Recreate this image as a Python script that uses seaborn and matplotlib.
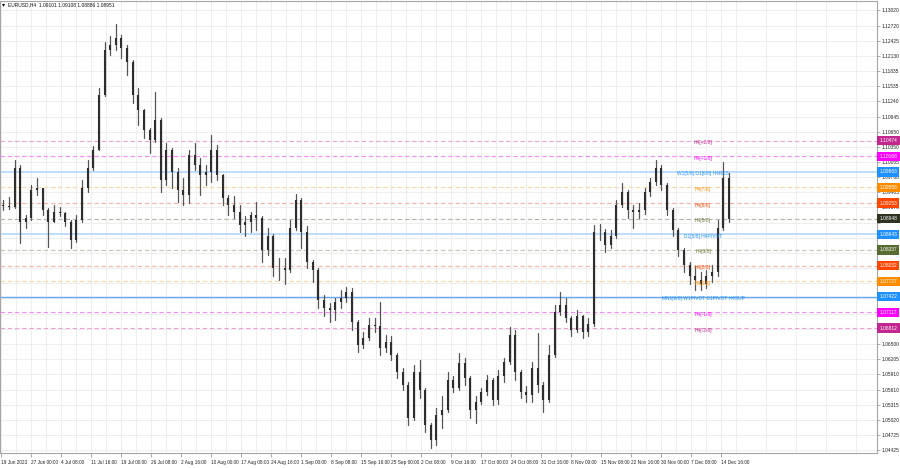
import numpy as np
import pandas as pd
import matplotlib
matplotlib.use("Agg")
import matplotlib.pyplot as plt
from matplotlib import transforms
import seaborn as sns

sns.set_style("white")
plt.rcParams["font.family"] = ["Liberation Sans", "DejaVu Sans"]

# ---------------- data (EURUSD H4, grouped 6 bars per candle) ----------------
first_open = 1.0922
high = [1.0931, 1.0937, 1.1010, 1.1000, 1.0902, 1.0961, 1.0974, 1.0955, 1.0916, 1.0922,
        1.0918, 1.0908, 1.0892, 1.0902, 1.0970, 1.1010, 1.1037, 1.1150, 1.1240, 1.1252,
        1.1275, 1.1254, 1.1234, 1.1205, 1.1150, 1.1110, 1.1072, 1.1142, 1.1092, 1.1043,
        1.1033, 1.0994, 1.0974, 1.1029, 1.1043, 1.1013, 1.1000, 1.1058, 1.1039, 1.0982,
        1.0941, 1.0939, 1.0922, 1.0900, 1.0908, 1.0927, 1.0900, 1.0877, 1.0865, 1.0818,
        1.0818, 1.0892, 1.0943, 1.0935, 1.0881, 1.0814, 1.0799, 1.0746, 1.0730, 1.0740,
        1.0756, 1.0761, 1.0759, 1.0697, 1.0673, 1.0701, 1.0701, 1.0732, 1.0668, 1.0666,
        1.0633, 1.0603, 1.0576, 1.0609, 1.0619, 1.0564, 1.0496, 1.0525, 1.0548, 1.0595,
        1.0588, 1.0632, 1.0623, 1.0588, 1.0548, 1.0564, 1.0590, 1.0584, 1.0599, 1.0623,
        1.0683, 1.0677, 1.0599, 1.0568, 1.0615, 1.0672, 1.0576, 1.0648, 1.0726, 1.0752,
        1.0740, 1.0705, 1.0716, 1.0707, 1.0701, 1.0883, 1.0884, 1.0874, 1.0873, 1.0931,
        1.0965, 1.0951, 1.0922, 1.0926, 1.0955, 1.0974, 1.1010, 1.1000, 1.0965, 1.0916,
        1.0877, 1.0838, 1.0810, 1.0802, 1.0791, 1.0795, 1.0804, 1.0892, 1.1006, 1.0985]
low = [1.0912, 1.0914, 1.0916, 1.0847, 1.0877, 1.0892, 1.0941, 1.0902, 1.0840, 1.0888,
       1.0900, 1.0881, 1.0838, 1.0850, 1.0888, 1.0947, 1.0990, 1.1029, 1.1135, 1.1215,
       1.1225, 1.1209, 1.1176, 1.1121, 1.1078, 1.1053, 1.1023, 1.1045, 1.0947, 1.0961,
       1.0955, 1.0927, 1.0922, 1.0926, 1.0990, 1.0941, 1.0961, 1.0967, 1.0970, 1.0922,
       1.0902, 1.0896, 1.0869, 1.0861, 1.0869, 1.0873, 1.0810, 1.0824, 1.0783, 1.0775,
       1.0767, 1.0791, 1.0873, 1.0838, 1.0799, 1.0771, 1.0720, 1.0705, 1.0693, 1.0697,
       1.0720, 1.0732, 1.0677, 1.0634, 1.0642, 1.0658, 1.0673, 1.0629, 1.0634, 1.0619,
       1.0584, 1.0560, 1.0492, 1.0502, 1.0545, 1.0478, 1.0447, 1.0453, 1.0486, 1.0517,
       1.0556, 1.0560, 1.0570, 1.0505, 1.0496, 1.0533, 1.0550, 1.0531, 1.0533, 1.0576,
       1.0611, 1.0580, 1.0545, 1.0537, 1.0537, 1.0556, 1.0517, 1.0537, 1.0625, 1.0707,
       1.0693, 1.0666, 1.0673, 1.0662, 1.0666, 1.0685, 1.0853, 1.0830, 1.0838, 1.0857,
       1.0918, 1.0896, 1.0877, 1.0896, 1.0904, 1.0939, 1.0961, 1.0951, 1.0902, 1.0861,
       1.0822, 1.0791, 1.0767, 1.0756, 1.0756, 1.0759, 1.0771, 1.0783, 1.0873, 1.0888]
close = [1.0920, 1.0918, 1.0994, 1.0888, 1.0896, 1.0951, 1.0955, 1.0912, 1.0888, 1.0908,
         1.0906, 1.0888, 1.0853, 1.0892, 1.0955, 1.0994, 1.1029, 1.1137, 1.1225, 1.1234,
         1.1248, 1.1228, 1.1201, 1.1137, 1.1107, 1.1068, 1.1049, 1.1088, 1.0970, 1.1029,
         1.0986, 1.0951, 1.0941, 1.1019, 1.1000, 1.0980, 1.0986, 1.1029, 1.0980, 1.0935,
         1.0922, 1.0908, 1.0883, 1.0888, 1.0902, 1.0896, 1.0834, 1.0861, 1.0799, 1.0799,
         1.0795, 1.0877, 1.0931, 1.0869, 1.0810, 1.0795, 1.0736, 1.0720, 1.0716, 1.0732,
         1.0740, 1.0752, 1.0693, 1.0648, 1.0662, 1.0687, 1.0685, 1.0642, 1.0654, 1.0629,
         1.0595, 1.0570, 1.0505, 1.0595, 1.0560, 1.0492, 1.0462, 1.0511, 1.0521, 1.0580,
         1.0564, 1.0613, 1.0584, 1.0521, 1.0537, 1.0556, 1.0580, 1.0541, 1.0588, 1.0615,
         1.0668, 1.0595, 1.0556, 1.0550, 1.0603, 1.0570, 1.0541, 1.0629, 1.0713, 1.0726,
         1.0701, 1.0677, 1.0705, 1.0673, 1.0689, 1.0869, 1.0869, 1.0843, 1.0861, 1.0922,
         1.0947, 1.0912, 1.0908, 1.0912, 1.0947, 1.0967, 1.0994, 1.0961, 1.0912, 1.0873,
         1.0834, 1.0804, 1.0783, 1.0775, 1.0767, 1.0783, 1.0791, 1.0877, 1.0974, 1.0895]

x_labels = ["19 Jun 2023", "27 Jun 00:00", "4 Jul 08:00", "11 Jul 16:00", "19 Jul 00:00",
            "26 Jul 08:00", "2 Aug 16:00", "10 Aug 00:00", "17 Aug 08:00", "24 Aug 16:00",
            "1 Sep 00:00", "8 Sep 08:00", "15 Sep 16:00", "25 Sep 00:00", "2 Oct 08:00",
            "9 Oct 16:00", "17 Oct 00:00", "24 Oct 08:00", "31 Oct 16:00", "8 Nov 00:00",
            "15 Nov 08:00", "22 Nov 16:00", "30 Nov 00:00", "7 Dec 08:00", "14 Dec 16:00"]

y_ticks = [1.13020, 1.12720, 1.12425, 1.12130, 1.11835, 1.11535, 1.11240, 1.10945,
           1.10650, 1.10350, 1.10055, 1.09760, 1.09465, 1.09170, 1.08870, 1.08575,
           1.08280, 1.07980, 1.07685, 1.07390, 1.07095, 1.06795, 1.06500, 1.06205,
           1.05910, 1.05610, 1.05315, 1.05020, 1.04725, 1.04425]
y_hidden = [1.08870, 1.08575, 1.08280, 1.07980, 1.07685, 1.07390, 1.07095, 1.06795]

level_prices = [1.10474, 1.10168, 1.09863, 1.09558, 1.09253, 1.08948, 1.08643,
                1.08337, 1.08032, 1.07727, 1.07422, 1.07117, 1.06812]
level_names = ["H4[+2/8]", "H4[+1/8]", "W1[5/8] D1[6/8] H4RES", "H4[7/8]", "H4[6/8]",
               "H4[5/8]", "D1[5/8] H4PIVOT", "H4[3/8]", "H4[2/8]", "H4[1/8]",
               "MN1[6/8] W1PIVOT D1PIVOT H4SUP", "H4[-1/8]", "H4[-2/8]"]
level_text_colors = ["#c2278f", "#ff00ff", "#1e90ff", "#ff8c00", "#ff4500", "#6b7a3a",
                     "#1e90ff", "#6b7a3a", "#ff4500", "#ff8c00", "#1e90ff", "#ff00ff", "#c2278f"]
level_box_colors = ["#c2278f", "#ff00ff", "#1e90ff", "#ff8c00", "#ff4500", "#2e3322",
                    "#1e90ff", "#556b2f", "#ff4500", "#ff8c00", "#1e90ff", "#ff00ff", "#c2278f"]
level_line_colors = ["#eaa3d6", "#f58cf5", "#b9dafa", "#fbd6a6", "#f9b3a3", "#b4b4a6",
                     "#b9dafa", "#c3c3b4", "#f9b3a3", "#fbd6a6", "#6aa8ee", "#f58cf5", "#eaa3d6"]
level_solid = [False, False, True, False, False, False, True, False, False, False, True, False, False]

# ---------------- figure ----------------
W, H = 900, 468
fig = plt.figure(figsize=(W / 100, H / 100), dpi=100)
ax = fig.add_axes([0.0, 15 / H, 877 / W, 452 / H])

BAR_PX = 0.9375          # pixel width of one H4 bar
GROUP = 6                # H4 bars per drawn candle
n = len(close)
opens = [first_open] + close[:-1]
xc = np.arange(n) * GROUP + (GROUP - 1) / 2.0

# grid
ax.set_xlim(-1 / BAR_PX, (877 - 1) / BAR_PX)
ax.set_ylim(1.04370, 1.13202)
ax.set_xticks([32 * k for k in range(len(x_labels))])
ax.set_xticks([32 * k + 16 for k in range(len(x_labels) + 4)], minor=True)
ax.set_yticks(y_ticks)
ax.grid(True, which="both", color="#ebebeb", lw=0.6, zorder=0)
ax.set_axisbelow(True)

# level lines
for p, c, solid in zip(level_prices, level_line_colors, level_solid):
    if solid:
        ax.axhline(p, color=c, lw=1.3 if c != "#6aa8ee" else 1.0, zorder=1)
    else:
        ax.axhline(p, color=c, lw=0.8, ls=(0, (4, 2.5)), zorder=1)

# candles drawn with seaborn line segments
wick_df = pd.DataFrame({
    "x": np.repeat(xc, 2),
    "p": np.column_stack([low, high]).ravel(),
    "u": np.repeat(np.arange(n), 2),
})
body_df = pd.DataFrame({
    "x": np.repeat(xc, 2),
    "p": np.column_stack([opens, close]).ravel(),
    "u": np.repeat(np.arange(n), 2),
})
sns.lineplot(data=wick_df, x="x", y="p", units="u", estimator=None, sort=False,
             color="#555555", lw=0.9, ax=ax, legend=False, zorder=2)
sns.lineplot(data=body_df, x="x", y="p", units="u", estimator=None, sort=False,
             color="#2e2e2e", lw=1.5, solid_capstyle="butt", ax=ax, legend=False, zorder=2)

# axes styling
for s in ax.spines.values():
    s.set_color("#a6a6a6")
    s.set_linewidth(0.8)
ax.set_xlabel("")
ax.set_ylabel("")
ax.yaxis.tick_right()
ax.tick_params(axis="y", which="major", right=True, left=False, labelright=True,
               labelleft=False, length=2, width=0.5, pad=1.5, labelsize=3.5,
               color="#888888", labelcolor="#222222")
ax.tick_params(axis="x", which="major", bottom=True, length=3, width=0.5, pad=2,
               labelsize=3.4, color="#888888", labelcolor="#222222")
ax.tick_params(axis="x", which="minor", bottom=False)
ax.set_xticklabels(x_labels)
for lbl in ax.get_xticklabels():
    lbl.set_ha("left")
ax.set_yticklabels(["" if v in y_hidden else f"{v:.5f}" for v in y_ticks])

# level text labels & right-side price boxes
blend = transforms.blended_transform_factory(ax.transAxes, ax.transData)
lab_tr = transforms.offset_copy(blend, fig=fig, x=0, y=-2, units="dots")
for p, name, tc, bc in zip(level_prices, level_names, level_text_colors, level_box_colors):
    ax.text(703 / 877, p, name, transform=lab_tr, ha="center", va="center",
            fontsize=3.5, color=tc, zorder=4)
    ax.text(1.0 + 2.5 / 877, p, f"{p:.5f}", transform=blend, ha="left", va="center",
            fontsize=3.5, color="white", zorder=5, clip_on=False,
            bbox=dict(boxstyle="square,pad=0.45", fc=bc, ec="none"))

# header
fig.text(2 / W, 1 - 5 / H, "\u25BE", fontsize=4.5, color="#111111", va="center", ha="left",
         family=["DejaVu Sans"])
fig.text(8 / W, 1 - 5 / H, "EURUSD,H4  1.09101 1.09108 1.08886 1.08951", fontsize=3.5,
         color="#111111", va="center", ha="left")

fig.savefig("out.png", dpi=100)
